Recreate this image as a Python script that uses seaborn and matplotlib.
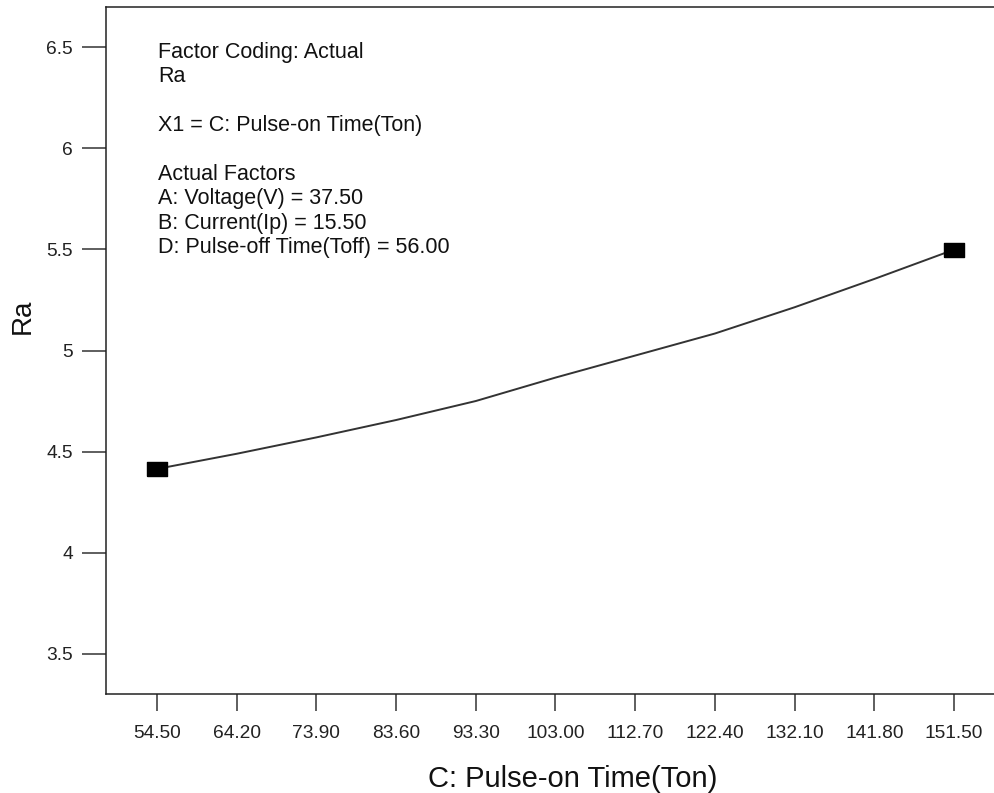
import numpy as np
import pandas as pd
import matplotlib
matplotlib.use("Agg")
import matplotlib.pyplot as plt
import seaborn as sns

# predicted Ra along Pulse-on Time (read at the tick positions)
ton = [54.5, 64.2, 73.9, 83.6, 93.3, 103.0, 112.7, 122.4, 132.1, 141.8, 151.5]
ra_pred = [4.414, 4.489, 4.570, 4.656, 4.750, 4.866, 4.975, 5.084, 5.214, 5.354, 5.499]

# design points shown as squares
ton_pts = [54.5, 151.5]
ra_pts = [4.414, 5.499]

xtick_vals = [54.5, 64.2, 73.9, 83.6, 93.3, 103.0, 112.7, 122.4, 132.1, 141.8, 151.5]
ytick_vals = [3.5, 4, 4.5, 5, 5.5, 6, 6.5]
ytick_labels = ["3.5", "4", "4.5", "5", "5.5", "6", "6.5"]

info_lines = [
    "Factor Coding: Actual",
    "Ra",
    "",
    "X1 = C: Pulse-on Time(Ton)",
    "",
    "Actual Factors",
    "A: Voltage(V) = 37.50",
    "B: Current(Ip) = 15.50",
    "D: Pulse-off Time(Toff) = 56.00",
]

df = pd.DataFrame({"Ton": ton, "Ra": ra_pred})
df_pts = pd.DataFrame({"Ton": ton_pts, "Ra": ra_pts})

sns.set_style("ticks")
plt.rcParams["font.family"] = ["Liberation Sans", "DejaVu Sans"]

fig = plt.figure(figsize=(9.94, 7.93), dpi=100)
ax = fig.add_axes([0.1066, 0.1248, 0.8934, 0.8664])

sns.lineplot(data=df, x="Ton", y="Ra", ax=ax, color="#333333", linewidth=1.4)
rect = [(-1, -0.68), (1, -0.68), (1, 0.68), (-1, 0.68), (-1, -0.68)]
ax.plot(df_pts["Ton"], df_pts["Ra"], linestyle="none", marker=rect,
        markersize=14.5, color="black", zorder=5)

ax.set_xlim(48.29, 156.37)
ax.set_ylim(3.3, 6.7)
ax.set_xticks(xtick_vals)
ax.set_xticklabels([f"{v:.2f}" for v in xtick_vals])
ax.set_yticks(ytick_vals)
ax.set_yticklabels(ytick_labels)

ax.tick_params(axis="y", length=17, width=1.1, pad=7, labelsize=13.8,
               color="#333333", labelcolor="#222222")
ax.tick_params(axis="x", length=12, width=1.1, pad=10, labelsize=13.8,
               color="#333333", labelcolor="#222222")
for s in ["left", "bottom", "top"]:
    ax.spines[s].set_linewidth(1.1)
    ax.spines[s].set_color("#222222")
ax.spines["right"].set_visible(False)

ax.set_xlabel("C: Pulse-on Time(Ton)", fontsize=21, color="#111111")
ax.set_ylabel("Ra", fontsize=20, color="#111111")
ax.xaxis.set_label_coords(0.526, -0.104)
ax.yaxis.set_label_coords(-0.079, 0.55)

ax.text(0.0585, 0.949, "\n".join(info_lines), transform=ax.transAxes,
        fontsize=15.5, color="#111111", va="top", ha="left", linespacing=1.21)

fig.savefig("out.png", dpi=100)
